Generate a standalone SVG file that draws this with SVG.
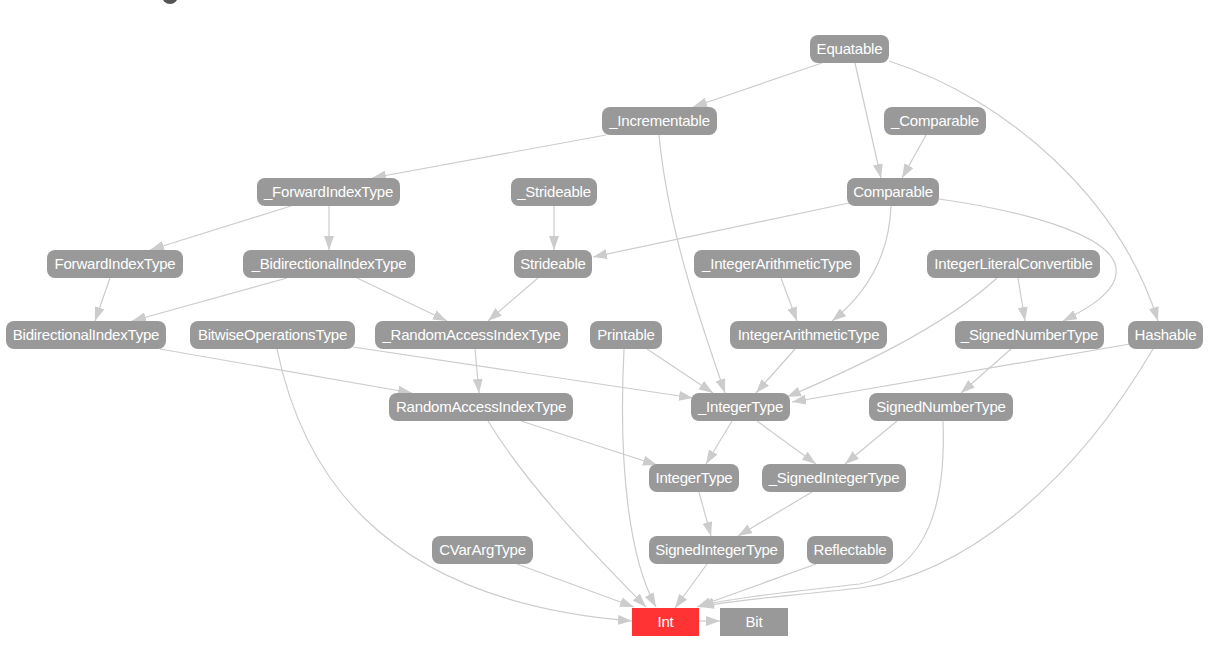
<svg xmlns="http://www.w3.org/2000/svg" width="1212" height="647" viewBox="0 0 1212 647">
<defs>
<style>
.n rect{fill:#999999}
.n text{fill:#ffffff;font-family:"Liberation Sans",Arial,sans-serif;font-size:15px;letter-spacing:-0.2px;text-anchor:middle}
.e path{fill:none;stroke:#cccccc;stroke-width:1.2;marker-end:url(#ah)}
</style>
<marker id="ah" viewBox="0 0 14 10" refX="14" refY="5" markerWidth="14" markerHeight="10" markerUnits="userSpaceOnUse" orient="auto">
<path d="M0,0 L14,5 L0,10 z" fill="#cccccc"/>
</marker>
</defs>
<rect width="1212" height="647" fill="#ffffff"/>
<circle cx="170" cy="-4" r="8" fill="#555555"/>
<g class="e" id="edges">
<path d="M822,63 L693,107"/>
<path d="M855,63 L881,178"/>
<path d="M889,61 C1010,100 1120,200 1158,321"/>
<path d="M926,135 L902,178"/>
<path d="M606,135 L372,178"/>
<path d="M659,135 C668,230 700,320 725,393"/>
<path d="M291,206 L150,250"/>
<path d="M329,206 L329,250"/>
<path d="M554,206 L554,250"/>
<path d="M849,203 L593,257"/>
<path d="M891,206 C889,260 862,297 832,321"/>
<path d="M939,199 C1030,212 1112,236 1116,268 C1119,292 1085,310 1063,321"/>
<path d="M110,278 L95,321"/>
<path d="M287,278 L132,321"/>
<path d="M357,278 L447,321"/>
<path d="M538,278 L488,321"/>
<path d="M781,278 L797,321"/>
<path d="M997,278 C940,330 850,370 787,397"/>
<path d="M1018,278 L1025,321"/>
<path d="M160,349 L412,393"/>
<path d="M353,347 L693,398"/>
<path d="M277,349 C300,460 370,600 632,621"/>
<path d="M475,349 L479,393"/>
<path d="M647,349 L713,393"/>
<path d="M624,349 C618,470 630,560 656,607"/>
<path d="M795,349 L756,393"/>
<path d="M1011,349 L961,393"/>
<path d="M1130,344 L792,402"/>
<path d="M1153,349 C1070,490 960,575 860,588 C780,597 730,600 700,607"/>
<path d="M521,421 L657,465"/>
<path d="M488,421 C530,490 600,560 646,607"/>
<path d="M732,421 L706,464"/>
<path d="M757,421 L816,464"/>
<path d="M897,421 L845,464"/>
<path d="M943,421 C946,500 930,570 860,584 C790,592 730,598 700,606"/>
<path d="M699,492 L711,536"/>
<path d="M812,492 L738,536"/>
<path d="M517,564 L634,607"/>
<path d="M707,564 L675,608"/>
<path d="M816,564 L697,607"/>
<path d="M699,621 L720,621"/>
</g>
<g class="n" id="Equatable"><rect x="810" y="35" width="79" height="28" rx="8"/><text x="849.5" y="54">Equatable</text></g>
<g class="n" id="_Incrementable"><rect x="602" y="107" width="115" height="28" rx="8"/><text x="659.5" y="126">_Incrementable</text></g>
<g class="n" id="_Comparable"><rect x="884" y="107" width="102" height="28" rx="8"/><text x="935" y="126">_Comparable</text></g>
<g class="n" id="_ForwardIndexType"><rect x="257" y="178" width="143" height="28" rx="8"/><text x="328.5" y="197">_ForwardIndexType</text></g>
<g class="n" id="_Strideable"><rect x="511" y="178" width="86" height="28" rx="8"/><text x="554" y="197">_Strideable</text></g>
<g class="n" id="Comparable"><rect x="847" y="178" width="92" height="28" rx="8"/><text x="893" y="197">Comparable</text></g>
<g class="n" id="ForwardIndexType"><rect x="47" y="250" width="136" height="28" rx="8"/><text x="115" y="269">ForwardIndexType</text></g>
<g class="n" id="_BidirectionalIndexType"><rect x="243" y="250" width="172" height="28" rx="8"/><text x="329" y="269">_BidirectionalIndexType</text></g>
<g class="n" id="Strideable"><rect x="514" y="250" width="78" height="28" rx="8"/><text x="553" y="269">Strideable</text></g>
<g class="n" id="_IntegerArithmeticType"><rect x="694" y="250" width="166" height="28" rx="8"/><text x="777" y="269">_IntegerArithmeticType</text></g>
<g class="n" id="IntegerLiteralConvertible"><rect x="927" y="250" width="173" height="28" rx="8"/><text x="1013.5" y="269">IntegerLiteralConvertible</text></g>
<g class="n" id="BidirectionalIndexType"><rect x="6" y="321" width="160" height="28" rx="8"/><text x="86" y="340">BidirectionalIndexType</text></g>
<g class="n" id="BitwiseOperationsType"><rect x="190" y="321" width="165" height="28" rx="8"/><text x="272.5" y="340">BitwiseOperationsType</text></g>
<g class="n" id="_RandomAccessIndexType"><rect x="375" y="321" width="193" height="28" rx="8"/><text x="471.5" y="340">_RandomAccessIndexType</text></g>
<g class="n" id="Printable"><rect x="590" y="321" width="72" height="28" rx="8"/><text x="626" y="340">Printable</text></g>
<g class="n" id="IntegerArithmeticType"><rect x="730" y="321" width="157" height="28" rx="8"/><text x="808.5" y="340">IntegerArithmeticType</text></g>
<g class="n" id="_SignedNumberType"><rect x="955" y="321" width="149" height="28" rx="8"/><text x="1029.5" y="340">_SignedNumberType</text></g>
<g class="n" id="Hashable"><rect x="1128" y="321" width="75" height="28" rx="8"/><text x="1165.5" y="340">Hashable</text></g>
<g class="n" id="RandomAccessIndexType"><rect x="389" y="393" width="184" height="28" rx="8"/><text x="481" y="412">RandomAccessIndexType</text></g>
<g class="n" id="_IntegerType"><rect x="691" y="393" width="99" height="28" rx="8"/><text x="740.5" y="412">_IntegerType</text></g>
<g class="n" id="SignedNumberType"><rect x="869" y="393" width="144" height="28" rx="8"/><text x="941" y="412">SignedNumberType</text></g>
<g class="n" id="IntegerType"><rect x="649" y="464" width="90" height="28" rx="8"/><text x="694" y="483">IntegerType</text></g>
<g class="n" id="_SignedIntegerType"><rect x="762" y="464" width="144" height="28" rx="8"/><text x="834" y="483">_SignedIntegerType</text></g>
<g class="n" id="CVarArgType"><rect x="432" y="536" width="101" height="28" rx="8"/><text x="482.5" y="555">CVarArgType</text></g>
<g class="n" id="SignedIntegerType"><rect x="649" y="536" width="135" height="28" rx="8"/><text x="716.5" y="555">SignedIntegerType</text></g>
<g class="n" id="Reflectable"><rect x="807" y="536" width="86" height="28" rx="8"/><text x="850" y="555">Reflectable</text></g>
<g class="n" id="Int"><rect x="632" y="608" width="67" height="28" style="fill:#ff3333"/><text x="665.5" y="627">Int</text></g>
<g class="n" id="Bit"><rect x="720" y="608" width="68" height="28"/><text x="754" y="627">Bit</text></g>
</svg>
